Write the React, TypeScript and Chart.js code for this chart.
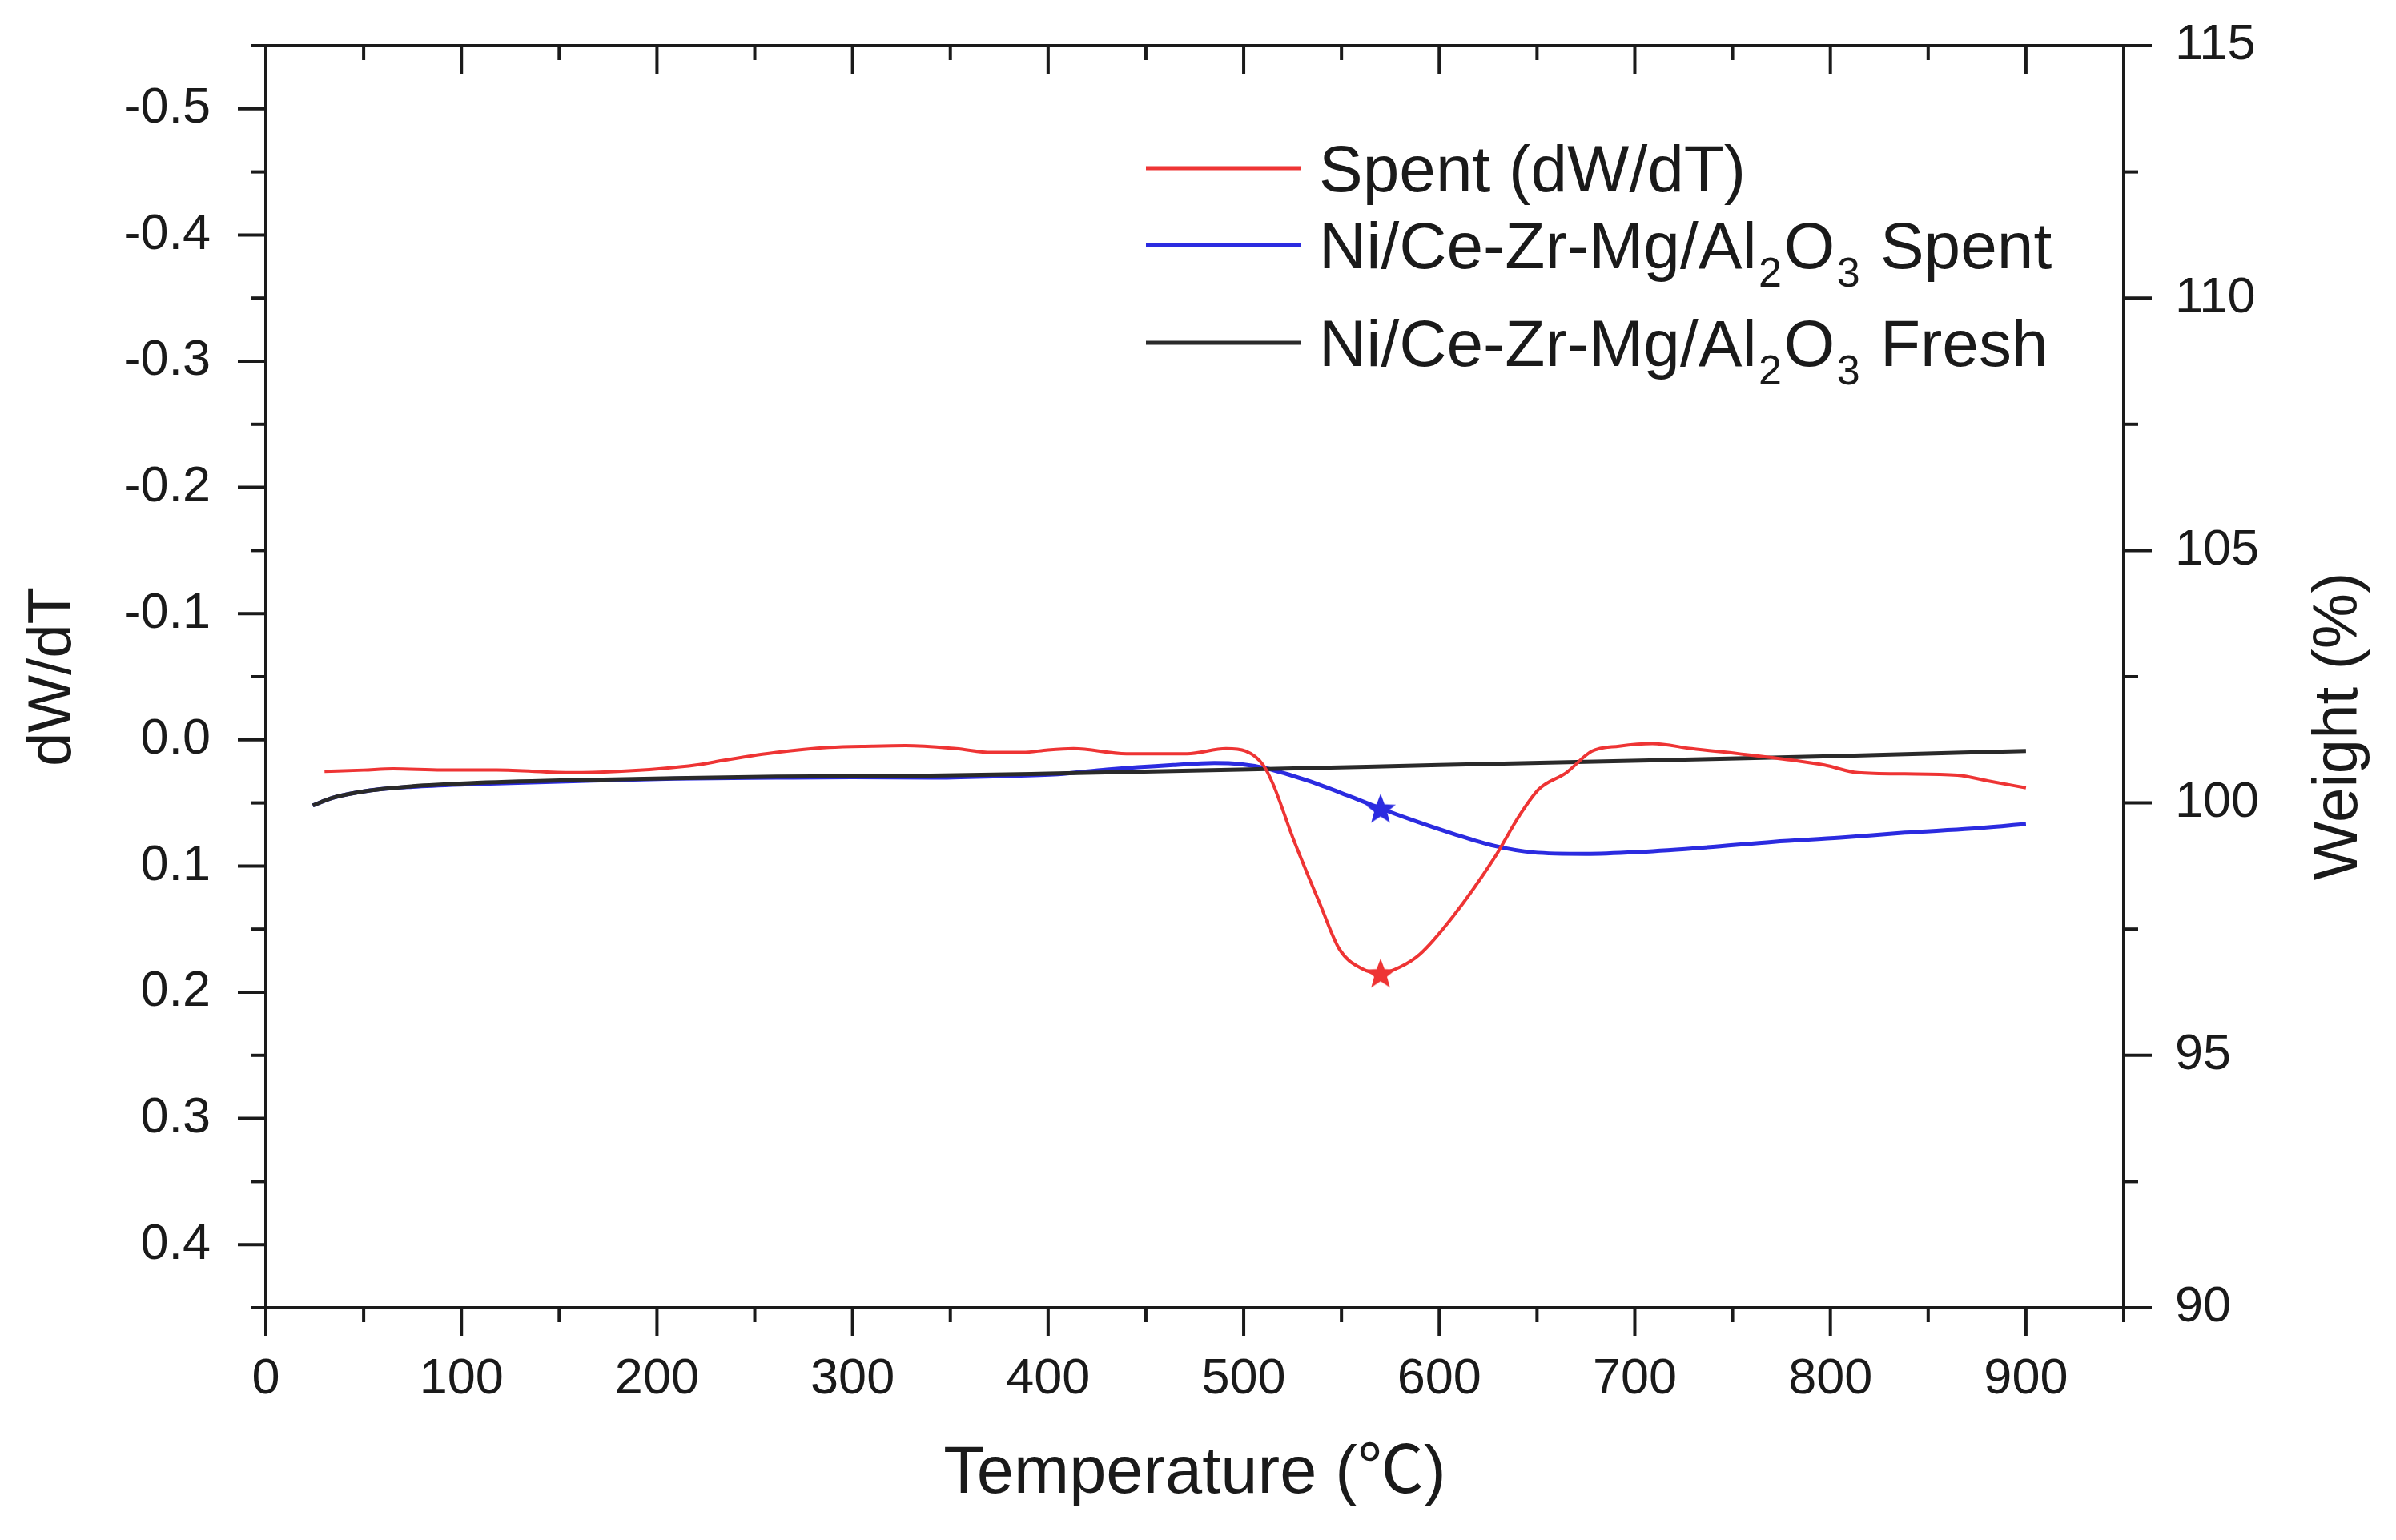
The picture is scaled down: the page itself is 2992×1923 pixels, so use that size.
import React, { useEffect, useRef } from "react";
import { Chart, registerables } from "chart.js";

Chart.register(...registerables);

// ---------------- data ----------------
const rateTemps = [30, 50, 65, 90, 118, 157, 180, 201, 220, 235, 261, 288, 310, 327, 353, 371, 387, 400, 413, 440, 471, 491, 501, 510, 515, 525, 539, 549, 560, 570, 580, 590, 607, 628, 641, 651, 665, 678, 692, 709, 729, 753, 780, 797, 814, 838, 865, 882, 900];
const rateValues = [0.025, 0.024, 0.023, 0.024, 0.024, 0.026, 0.025, 0.023, 0.02, 0.016, 0.01, 0.006, 0.005, 0.0046, 0.007, 0.01, 0.01, 0.008, 0.007, 0.011, 0.011, 0.007, 0.009, 0.02, 0.035, 0.077, 0.13, 0.166, 0.181, 0.185, 0.18, 0.17, 0.14, 0.094, 0.06, 0.039, 0.026, 0.009, 0.005, 0.003, 0.007, 0.011, 0.016, 0.02, 0.026, 0.027, 0.028, 0.033, 0.038];

const spentTemps = [24, 34, 52, 75, 104, 157, 209, 261, 300, 340, 375, 405, 430, 464, 485, 498, 512, 532, 553, 570, 587, 607, 628, 648, 675, 703, 737, 771, 805, 838, 872, 900];
const spentWeights = [99.95, 100.1, 100.24, 100.32, 100.37, 100.43, 100.48, 100.5, 100.51, 100.5, 100.53, 100.57, 100.66, 100.75, 100.79, 100.77, 100.68, 100.45, 100.15, 99.89, 99.65, 99.39, 99.15, 99.02, 98.99, 99.03, 99.12, 99.23, 99.31, 99.41, 99.49, 99.58];

const freshTemps = [24, 34, 52, 75, 104, 157, 209, 261, 340, 400, 498, 600, 703, 805, 900];
const freshWeights = [99.95, 100.1, 100.24, 100.33, 100.39, 100.45, 100.49, 100.52, 100.54, 100.58, 100.66, 100.75, 100.84, 100.93, 101.03];

const peakTemp = 570;
const peakRate = 0.185;
const peakWeight = 99.89;

const legendLabels = ["Spent (dW/dT)", "Ni/Ce-Zr-Mg/Al_2O_3 Spent", "Ni/Ce-Zr-Mg/Al_2O_3 Fresh"];
const xTitle = "Temperature (\u2103)";
const yLeftTitle = "dW/dT";
const yRightTitle = "Weight (%)";

const xRange = [0, 950];
const yLeftRange = [-0.55, 0.45];
const yRightRange = [90, 115];

// ---------------- style ----------------
const FONT = '"Liberation Sans", Arial, "Noto Sans CJK SC", sans-serif';
const INK = "#1a1a1a";
const RED = "#ee3434";
const BLUE = "#2b2be0";
const BLACK = "#2a2a2a";

function makeStar(color: string, size: number) {
  const c = document.createElement("canvas");
  c.width = size;
  c.height = size;
  const g = c.getContext("2d")!;
  const cx = size / 2, cy = size / 2 + size * 0.04;
  const R = size / 2, r = R * 0.42;
  g.beginPath();
  for (let i = 0; i < 10; i++) {
    const ang = -Math.PI / 2 + (i * Math.PI) / 5;
    const rad = i % 2 === 0 ? R : r;
    const px = cx + rad * Math.cos(ang);
    const py = cy + rad * Math.sin(ang);
    if (i === 0) g.moveTo(px, py);
    else g.lineTo(px, py);
  }
  g.closePath();
  g.fillStyle = color;
  g.fill();
  return c;
}

const isMajor = (v: number, step: number) => Math.abs(v / step - Math.round(v / step)) < 1e-6;

const tickPlugin = {
  id: "originTicks",
  afterDraw(chart: any) {
    const ctx = chart.ctx;
    const a = chart.chartArea;
    const specs = [
      { id: "x", step: 100 },
      { id: "x2", step: 100 },
      { id: "y", step: 0.1 },
      { id: "y1", step: 5 },
    ];
    ctx.save();
    ctx.strokeStyle = INK;
    ctx.lineWidth = 4;
    ctx.lineCap = "butt";
    for (const sp of specs) {
      const s = chart.scales[sp.id];
      if (!s) continue;
      for (const t of s.ticks) {
        const len = isMajor(t.value, sp.step) ? 35 : 18;
        const p = s.getPixelForValue(t.value);
        ctx.beginPath();
        if (sp.id === "x") {
          ctx.moveTo(p, a.bottom);
          ctx.lineTo(p, a.bottom + len);
        } else if (sp.id === "x2") {
          ctx.moveTo(p, a.top);
          ctx.lineTo(p, a.top + len);
        } else if (sp.id === "y") {
          ctx.moveTo(a.left, p);
          ctx.lineTo(a.left - len, p);
        } else {
          ctx.moveTo(a.right, p);
          ctx.lineTo(a.right + len, p);
        }
        ctx.stroke();
      }
    }
    ctx.restore();
  },
};

function drawRichText(ctx: CanvasRenderingContext2D, text: string, x: number, baseline: number, size: number) {
  const parts = text.split(/(_\d)/);
  let cx = x;
  for (const part of parts) {
    if (!part) continue;
    if (part.startsWith("_")) {
      const sub = part.slice(1);
      const sSize = Math.round(size * 0.64);
      ctx.font = `${sSize}px ${FONT}`;
      cx += size * 0.03;
      ctx.fillText(sub, cx, baseline + size * 0.28);
      cx += ctx.measureText(sub).width + size * 0.03;
    } else {
      ctx.font = `${size}px ${FONT}`;
      ctx.fillText(part, cx, baseline);
      cx += ctx.measureText(part).width;
    }
  }
}

const legendPlugin = {
  id: "subLegend",
  afterDraw(chart: any, _args: any, opts: any) {
    const ctx = chart.ctx;
    const a = chart.chartArea;
    const items = chart.data.datasets.filter((d: any) => d.legendText);
    ctx.save();
    items.forEach((d: any, i: number) => {
      const y = a.top + opts.rows[i];
      ctx.strokeStyle = d.borderColor;
      ctx.lineWidth = 5;
      ctx.beginPath();
      ctx.moveTo(a.left + opts.lineStart, y);
      ctx.lineTo(a.left + opts.lineEnd, y);
      ctx.stroke();
      ctx.fillStyle = INK;
      ctx.textAlign = "left";
      ctx.textBaseline = "alphabetic";
      drawRichText(ctx, d.legendText, a.left + opts.textStart, y + opts.fontSize * 0.35, opts.fontSize);
    });
    // right axis title (reads bottom-to-top)
    ctx.translate(a.right + opts.rightTitleDx, (a.top + a.bottom) / 2 + opts.rightTitleDy);
    ctx.rotate(-Math.PI / 2);
    ctx.textAlign = "center";
    ctx.textBaseline = "middle";
    ctx.font = `${opts.rightTitleSize}px ${FONT}`;
    ctx.fillStyle = INK;
    ctx.fillText(yRightTitle, 0, 0);
    ctx.restore();
  },
};

const fixV = (w: number) => (s: any) => {
  s.width = w;
  s.paddingTop = 0;
  s.paddingBottom = 0;
};
const fixH = (h: number) => (s: any) => {
  s.height = h;
  s.paddingLeft = 0;
  s.paddingRight = 0;
};

export default function App() {
  const ref = useRef<HTMLCanvasElement | null>(null);

  useEffect(() => {
    if (!ref.current) return;
    const redStar = makeStar(RED, 40);
    const blueStar = makeStar(BLUE, 40);
    const toXY = (xs: number[], ys: number[]) => xs.map((x, i) => ({ x, y: ys[i] }));

    const chart = new Chart(ref.current, {
      type: "line",
      data: {
        datasets: [
          {
            label: legendLabels[0],
            legendText: legendLabels[0],
            data: toXY(rateTemps, rateValues),
            xAxisID: "x",
            yAxisID: "y",
            borderColor: RED,
            borderWidth: 4,
            pointRadius: 0,
            cubicInterpolationMode: "monotone",
            order: 1,
          } as any,
          {
            label: legendLabels[1],
            legendText: legendLabels[1],
            data: toXY(spentTemps, spentWeights),
            xAxisID: "x",
            yAxisID: "y1",
            borderColor: BLUE,
            borderWidth: 5,
            pointRadius: 0,
            cubicInterpolationMode: "monotone",
            order: 3,
          } as any,
          {
            label: legendLabels[2],
            legendText: legendLabels[2],
            data: toXY(freshTemps, freshWeights),
            xAxisID: "x",
            yAxisID: "y1",
            borderColor: BLACK,
            borderWidth: 5,
            pointRadius: 0,
            cubicInterpolationMode: "monotone",
            order: 2,
          } as any,
          {
            label: "peak-rate",
            data: [{ x: peakTemp, y: peakRate }],
            xAxisID: "x",
            yAxisID: "y",
            showLine: false,
            pointStyle: redStar,
            pointRadius: 20,
            order: 0,
          } as any,
          {
            label: "peak-weight",
            data: [{ x: peakTemp, y: peakWeight }],
            xAxisID: "x",
            yAxisID: "y1",
            showLine: false,
            pointStyle: blueStar,
            pointRadius: 20,
            order: 0,
          } as any,
        ],
      },
      options: {
        animation: false,
        responsive: false,
        devicePixelRatio: 1,
        events: [],
        layout: { padding: 0 },
        plugins: {
          legend: { display: false },
          tooltip: { enabled: false },
          subLegend: {
            rows: [153, 249, 371],
            lineStart: 1099,
            lineEnd: 1293,
            textStart: 1315,
            fontSize: 82,
            rightTitleDx: 269,
            rightTitleDy: 62,
            rightTitleSize: 78,
          },
        } as any,
        scales: {
          x: {
            type: "linear",
            position: "bottom",
            min: xRange[0],
            max: xRange[1],
            afterFit: fixH(290),
            grid: { display: false },
            border: { display: true, width: 4, color: INK },
            ticks: {
              stepSize: 50,
              autoSkip: false,
              maxRotation: 0,
              padding: 44,
              color: INK,
              font: { family: FONT, size: 63 },
              callback: (v: any) => (isMajor(Number(v), 100) ? String(Math.round(Number(v))) : ""),
            },
            title: {
              display: true,
              text: xTitle,
              color: INK,
              font: { family: FONT, size: 83 },
              padding: { top: 0, bottom: 32 },
            },
          },
          x2: {
            type: "linear",
            position: "top",
            display: true,
            min: xRange[0],
            max: xRange[1],
            afterFit: fixH(57),
            grid: { display: false },
            border: { display: true, width: 4, color: INK },
            ticks: { stepSize: 50, autoSkip: false, display: false },
          },
          y: {
            type: "linear",
            position: "left",
            reverse: true,
            min: yLeftRange[0],
            max: yLeftRange[1],
            afterFit: fixV(332),
            grid: { display: false },
            border: { display: true, width: 4, color: INK },
            ticks: {
              stepSize: 0.05,
              autoSkip: false,
              padding: 61,
              color: INK,
              font: { family: FONT, size: 63 },
              callback: (v: any) => {
                const n = Number(v);
                if (!isMajor(n, 0.1)) return "";
                const r = Math.round(n * 10) / 10;
                return (r === 0 ? 0 : r).toFixed(1);
              },
            },
            title: {
              display: true,
              text: yLeftTitle,
              color: INK,
              font: { family: FONT, size: 76 },
              padding: { top: 21, bottom: 0 },
            },
          },
          y1: {
            type: "linear",
            position: "right",
            min: yRightRange[0],
            max: yRightRange[1],
            afterFit: fixV(340),
            grid: { display: false },
            border: { display: true, width: 4, color: INK },
            ticks: {
              stepSize: 2.5,
              autoSkip: false,
              padding: 56,
              color: INK,
              font: { family: FONT, size: 63 },
              callback: (v: any) => (isMajor(Number(v), 5) ? String(Math.round(Number(v))) : ""),
            },
          },
        },
      } as any,
      plugins: [tickPlugin, legendPlugin],
    });

    return () => chart.destroy();
  }, []);

  return (
    <div style={{ position: "fixed", left: 0, top: 0, width: 2992, height: 1923, background: "#fff" }}>
      <canvas ref={ref} width={2992} height={1923} style={{ display: "block", width: 2992, height: 1923 }} />
    </div>
  );
}
